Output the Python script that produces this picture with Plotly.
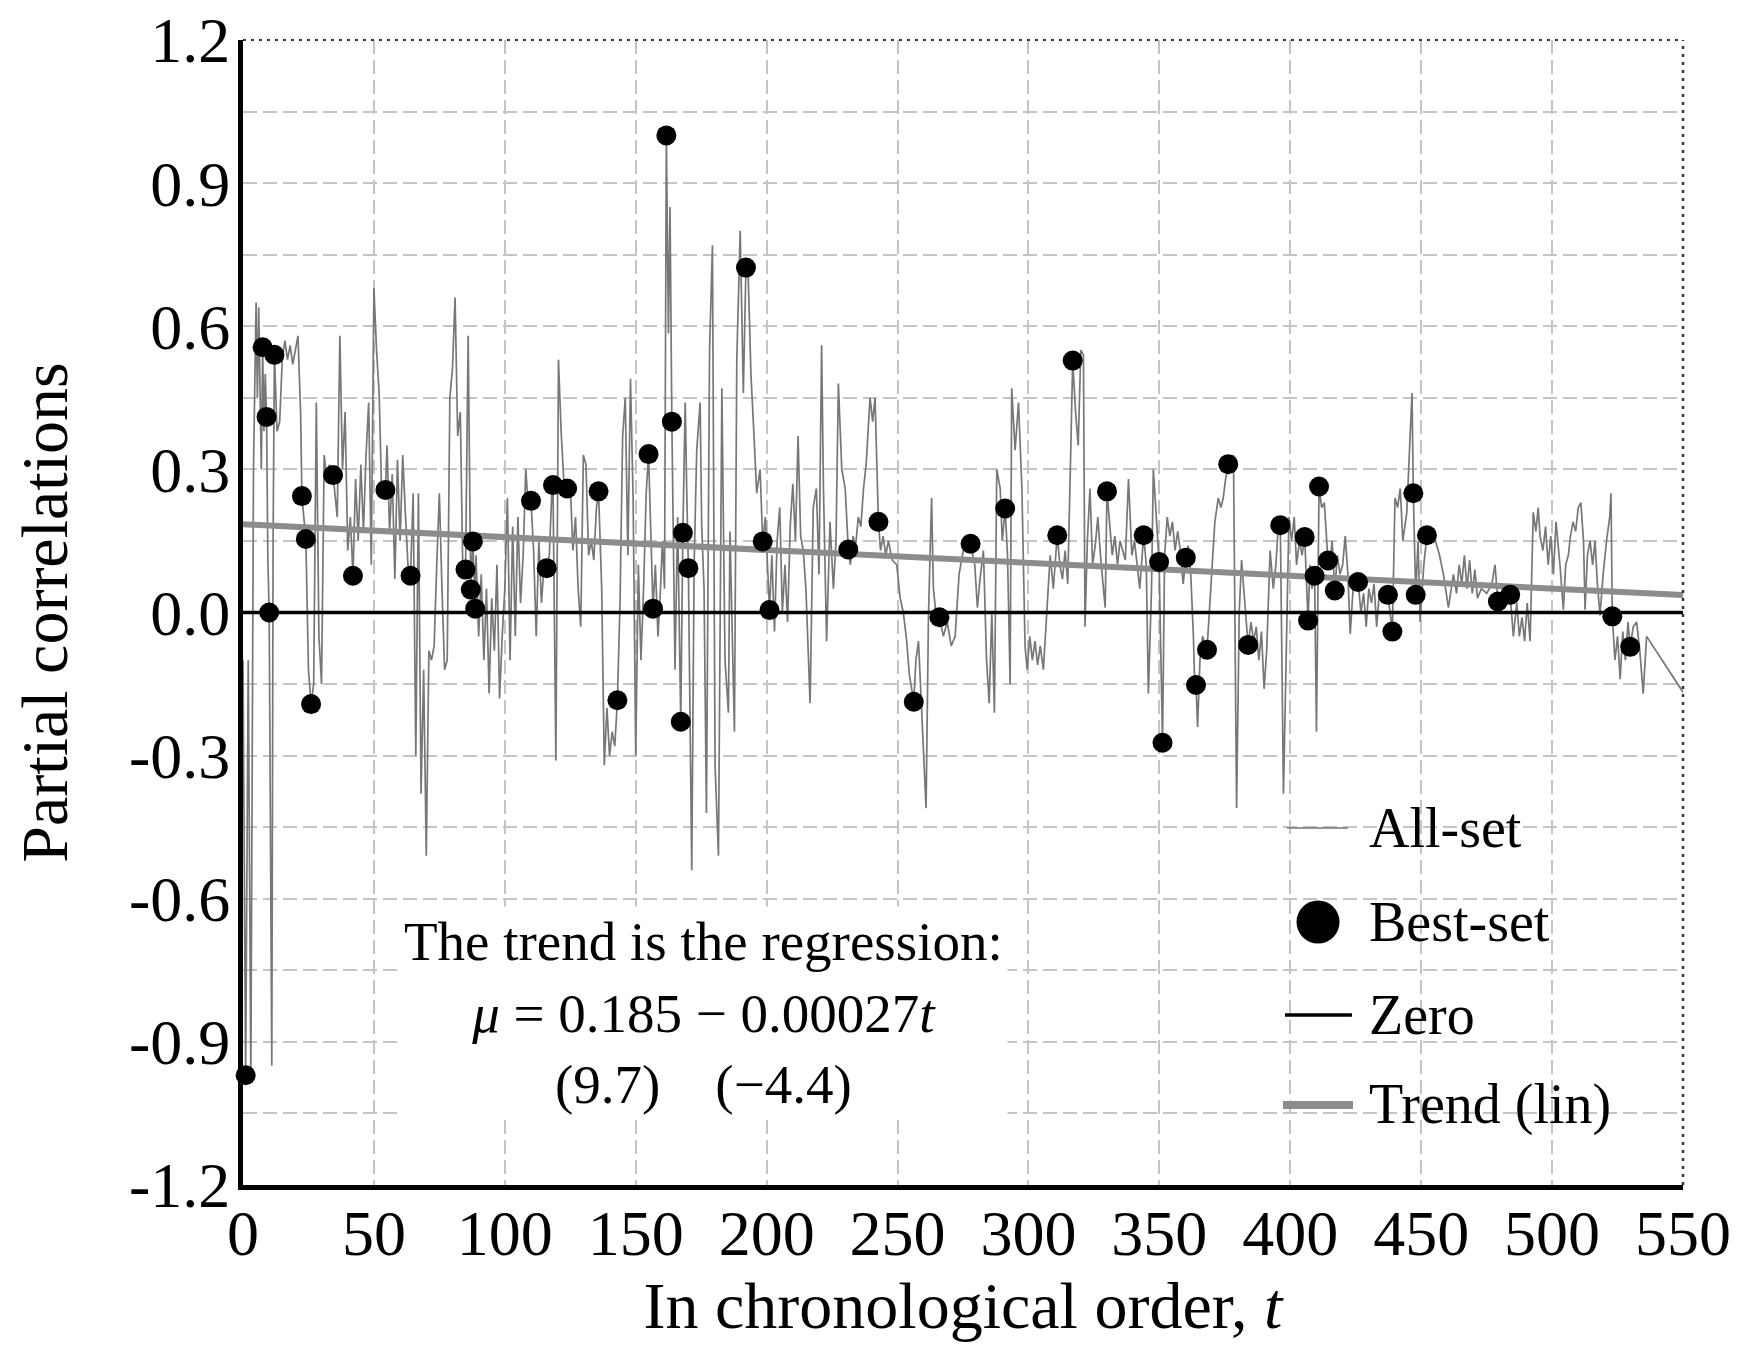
import plotly.graph_objects as go

# ---------------- data ----------------
ALL_T = [
    0, 1, 2, 2.5, 3, 4, 5, 5.5, 6, 7,
    7.5, 8, 8.5, 9, 9.5, 10, 10.5, 11, 11.5, 12,
    13, 14, 15, 16, 17, 18, 19, 20, 21, 22,
    22.5, 24, 24.5, 25, 26, 27, 28, 29, 30, 31,
    32, 33, 34, 34.4, 36, 37, 38, 39, 40, 41,
    42, 43, 44, 45, 46, 47, 48, 49, 50, 51,
    52, 53, 54.4, 55, 56, 57, 58, 59, 60, 61,
    62, 63, 64, 65, 66, 67, 68, 69,
    70, 71, 72, 73, 74, 75, 76, 77, 78, 79,
    80, 81, 82, 83, 84, 85, 86, 87, 87.8, 88.7,
    89, 90, 91, 92, 93, 94, 95, 96, 97, 98,
    99, 100, 101, 102, 103, 104, 105, 106, 107, 108,
    109, 110, 111, 112, 113, 114, 115, 116, 117, 118,
    118.4, 119.5, 120.5, 121.5, 122.5, 123.8, 125, 126, 127, 128,
    129, 130, 131, 132, 133, 134, 135, 135.8, 137, 138,
    139, 140, 141, 142, 143, 144, 145, 146, 147, 148,
    149,
    150, 151, 152, 153, 154, 154.9, 155.5, 156.6, 157.5, 158.5,
    159.3, 160.2, 161, 161.7, 162.5, 163.1, 163.8, 165, 166, 167.2,
    168, 168.9, 169.5, 170.1, 171.4, 172.3, 173.3, 174.6, 175.2, 176.1,
    177, 178.2, 179.3, 180.3, 181.6, 182.9, 184.1, 185.4, 186, 187.7,
    188.6, 189.9, 191.1, 192.1, 193, 194, 195, 196.2, 197.5, 198.5,
    199.5, 201.1, 202, 203, 204,
    205, 206, 207, 208, 209, 210, 211, 212, 213, 214,
    215, 216.6, 217.8, 219, 220, 221, 221.7, 222.9, 224.2, 225.5,
    226.5, 227.4, 228.7, 230, 231.2, 232, 233, 234, 235, 236,
    237, 238, 239.5, 240.5, 241.4, 242.7, 243.5, 244.5, 245.5, 246.5,
    248, 249.7, 251, 252.2, 253.5, 254.5, 256.2, 257, 258, 259,
    260, 260.9, 261.8, 263, 263.7, 265, 266, 267.5, 269, 270.5,
    272, 273.5, 275.1, 277.9,
    279.5, 280.5, 281.5, 282.8, 284, 285, 286, 287, 287.9, 289.2,
    290, 291.1, 292, 293, 293.6, 294.9, 296.2, 297.5, 298.7, 299.5,
    300.5, 301.5, 302.5, 303.5, 304.5, 305.7, 307, 308.3, 309.5, 311,
    312, 313, 314, 315, 316, 316.9, 318, 319, 320, 321,
    321.6, 322.5, 323.5, 324.5, 325.5, 326.5, 327.5, 328.5, 329.3, 330,
    331, 332, 333, 334, 335, 336, 337, 338.2, 339.5, 340.5,
    341.4, 342.5, 344, 345, 345.8,
    347, 347.7, 348.3, 349.9, 351.2, 352, 353, 354, 355, 356,
    357, 358, 359.1, 360.1, 361, 362, 363, 363.6, 364, 364.6,
    365.5, 366.5, 368.2, 369.5, 371.2, 372.5, 373.5, 374.4, 375.3, 376.3,
    377.3, 378.3, 379.5, 380.5, 381.4, 382.5, 383.9, 385, 386, 387,
    388, 389, 390, 391, 392.3, 393.5, 394.5, 395.4, 396.2, 397.4,
    398.5, 399.5, 400.5, 401.5, 402.4, 403.5, 404.5, 405.5, 406.8, 407.5,
    408.3, 409.3, 410, 411, 412, 413, 414.4, 415.2, 416, 417,
    418, 419, 420, 421, 422, 422.9, 424, 425.9, 427, 428,
    429, 430, 431, 432, 433, 434, 435, 436, 437.3, 439,
    440, 441, 442, 443, 444.5, 445.8, 446.5, 447, 447.9, 448.8,
    449.6, 451, 452.2, 453.5, 454.7, 456, 457, 458.5, 460.4, 461.5,
    462.3, 463.5, 464.5, 465.5, 466.5, 467.5, 468.5, 469.5, 470.5, 471.5,
    473, 475, 477, 478.2, 479.3,
    480.5, 482, 483.3, 484, 485.2, 486.5, 487.5, 488.5, 489.5, 490.5,
    491.6, 492.8, 493.8, 494.7, 495.4, 496.5, 497.5, 498.5, 499.5, 500.5,
    501.5, 503, 504.3, 505.2, 506.2, 507, 508, 509, 510, 511,
    512, 512.6, 513.5, 514.5, 515.5, 516.4, 517.3, 518.3, 519.5, 520.8,
    522, 522.5, 523, 524, 525, 526, 527, 528, 529, 529.8,
    531, 532.3, 533.5, 534.8, 536.1, 550,
]
ALL_V = [
    -0.10, -0.97, -0.10, -0.67, -0.98, 0.30, 0.65, 0.45, 0.64, 0.30,
    0.556, 0.38, 0.50, 0.41, 0.11, 0.0, -0.57, -0.95, 0.16, 0.54,
    0.38, 0.40, 0.53, 0.57, 0.53, 0.56, 0.52, 0.55, 0.58, 0.42,
    0.244, 0.154, -0.03, -0.12, -0.192, -0.15, 0.44, -0.05, -0.15, 0.33,
    0.28, 0.31, 0.29, 0.288, 0.20, 0.58, 0.30, 0.42, 0.13, 0.20,
    0.077, 0.28, 0.15, 0.31, 0.17, 0.33, 0.44, 0.10, 0.68, 0.55,
    0.46, 0.24, 0.257, 0.35, 0.17, 0.29, 0.07, 0.32, 0.15, 0.33,
    0.21, 0.10, 0.077, 0.25, -0.30, 0.25, -0.38, -0.12,
    -0.51, -0.08, -0.10, -0.07, 0.10, 0.25, 0.05, -0.12, -0.10, 0.45,
    0.51, 0.66, 0.37, 0.42, 0.07, 0.09, 0.58, 0.048, 0.149, 0.008,
    0.12, -0.05, 0.08, -0.10, 0.05, -0.17, 0.03, -0.08, 0.10, -0.18,
    -0.05, 0.05, 0.24, -0.10, 0.18, -0.05, 0.20, 0.02, 0.12, 0.30,
    0.22, 0.234, 0.13, -0.05, 0.15, 0.02, 0.10, 0.093, 0.12, 0.26,
    0.267, -0.31, 0.53, 0.38, 0.28, 0.26, 0.27, 0.13, 0.20, 0.05,
    -0.03, 0.33, 0.31, 0.12, 0.15, 0.11, 0.22, 0.254, 0.05, -0.32,
    -0.20, -0.30, -0.25, -0.28, -0.184, 0.02, 0.37, 0.45, 0.12, 0.49,
    0.24,
    -0.30, 0.10, -0.10, 0.05, 0.25, 0.332, 0.20, 0.008, 0.10, -0.05,
    0.03, 0.15, 0.05, 1.0, 0.585, 0.85, 0.40, -0.12, 0.20, -0.229,
    0.167, 0.44, 0.25, 0.093, -0.54, 0.10, 0.34, 0.44, 0.18, 0.05,
    -0.42, 0.55, 0.77, -0.32, -0.51, 0.47, -0.10, -0.21, 0.17, -0.25,
    0.53, 0.80, 0.46, 0.723, 0.70, 0.50, 0.39, 0.25, 0.30, 0.149,
    0.20, 0.005, 0.12, -0.04, 0.15,
    0.22, 0.0, 0.10, -0.02, 0.18, 0.27, 0.15, 0.37, 0.16, 0.13,
    0.05, -0.19, 0.22, 0.26, 0.08, 0.56, 0.26, -0.06, 0.19, 0.05,
    0.15, 0.48, 0.30, 0.26, 0.132, 0.10, 0.16, 0.14, 0.20, 0.18,
    0.26, 0.31, 0.45, 0.40, 0.45, 0.19, 0.13, 0.16, 0.12, 0.15,
    0.11, 0.10, 0.03, 0.0, -0.06, -0.13, -0.187, -0.10, -0.06, -0.18,
    -0.30, -0.41, -0.01, 0.24, 0.05, -0.02, -0.01, -0.05, -0.02, -0.07,
    -0.05, 0.08, 0.13, 0.144,
    0.10, 0.01, 0.07, 0.13, -0.10, -0.19, 0.0, -0.21, 0.30, 0.26,
    0.15, 0.218, 0.12, -0.15, 0.47, 0.34, 0.44, 0.26, -0.07, -0.12,
    -0.05, -0.10, -0.06, -0.11, -0.07, -0.12, 0.0, 0.12, 0.05, 0.162,
    0.10, 0.07, 0.13, 0.06, 0.30, 0.528, 0.42, 0.35, 0.55, 0.54,
    -0.03, 0.15, 0.26, 0.10, 0.14, 0.20, 0.12, 0.05, 0.01, 0.254,
    0.18, 0.12, 0.16, 0.10, 0.15, 0.13, 0.11, 0.28, 0.12, 0.15,
    0.11, 0.05, 0.162, 0.10, -0.17,
    0.05, 0.30, 0.25, 0.106, -0.273, 0.12, 0.20, 0.16, 0.19, 0.13,
    0.17, 0.13, 0.06, 0.115, 0.14, 0.08, -0.05, -0.17, -0.152, -0.24,
    -0.10, -0.05, -0.078, 0.05, 0.19, 0.24, 0.22, 0.24, 0.28, 0.311,
    0.30, 0.33, -0.41, 0.0, 0.11, 0.03, -0.068, -0.02, -0.06, -0.03,
    -0.10, -0.04, -0.16, -0.08, 0.13, 0.05, 0.10, 0.18, 0.183, -0.38,
    -0.10, 0.20, 0.15, 0.20, 0.10, 0.15, 0.12, 0.158, -0.017, 0.10,
    0.05, 0.077, -0.25, 0.264, 0.22, 0.23, 0.109, 0.107, 0.15, 0.046,
    0.12, 0.08, 0.10, 0.16, 0.08, -0.045, 0.05, 0.064, 0.0, 0.04,
    -0.03, 0.05, 0.02, 0.06, -0.03, 0.04, 0.02, 0.05, 0.037, -0.04,
    0.24, 0.22, 0.26, 0.15, 0.21, 0.38, 0.46, 0.25, 0.037, 0.15,
    -0.02, 0.10, 0.162, 0.15, 0.16, 0.14, 0.12, 0.08, 0.01, 0.05,
    0.08, 0.04, 0.10, 0.06, 0.12, 0.05, 0.11, 0.04, 0.09, 0.03,
    0.05, 0.04, 0.06, 0.10, 0.023,
    0.04, 0.03, 0.02, 0.037, -0.05, 0.02, -0.05, -0.01, -0.06, 0.02,
    -0.06, 0.21, 0.17, 0.22, 0.16, 0.13, 0.18, 0.10, 0.16, 0.08,
    0.19, 0.10, 0.006, 0.10, 0.12, 0.16, 0.19, 0.17, 0.22, 0.23,
    0.15, 0.006, 0.12, 0.15, 0.10, 0.15, 0.06, -0.006, 0.08, 0.15,
    0.20, 0.25, -0.008, -0.10, -0.05, -0.14, -0.04, -0.10, -0.02, -0.072,
    -0.03, -0.02, -0.08, -0.17, -0.05, -0.167,
]

BEST_T = [1, 7.5, 9, 10, 12, 22.5, 24, 26, 34.4, 42,
          54.4, 64, 85, 87, 87.8, 88.7, 110, 116, 118.4, 123.8,
          135.8, 143, 154.9, 156.6, 161.7, 163.8, 167.2, 168, 170.1, 192.1,
          198.5, 201.1, 231.2, 242.7, 256.2, 266, 277.9, 291.1, 311, 316.9,
          330, 344, 349.9, 351.2, 360.1, 364, 368.2, 376.3, 383.9, 396.2,
          405.5, 406.8, 409.3, 411, 414.4, 417, 425.9, 437.3, 439, 447,
          447.9, 452.2, 479.3, 484, 523, 529.8]
BEST_V = [-0.97, 0.556, 0.41, 0.0, 0.54, 0.244, 0.154, -0.192, 0.288, 0.077,
          0.257, 0.077, 0.09, 0.048, 0.149, 0.008, 0.234, 0.093, 0.267, 0.26,
          0.254, -0.184, 0.332, 0.008, 1.0, 0.40, -0.229, 0.167, 0.093, 0.723,
          0.149, 0.005, 0.132, 0.19, -0.187, -0.01, 0.144, 0.218, 0.162, 0.528,
          0.254, 0.162, 0.106, -0.273, 0.115, -0.152, -0.078, 0.311, -0.068, 0.183,
          0.158, -0.017, 0.077, 0.264, 0.109, 0.046, 0.064, 0.037, -0.04, 0.25,
          0.037, 0.162, 0.023, 0.037, -0.008, -0.072]

ZERO_T = [0, 550]
ZERO_V = [0.0, 0.0]
TREND_T = [0, 550]
TREND_V = [0.185, 0.0365]

X_TICKS = [0, 50, 100, 150, 200, 250, 300, 350, 400, 450, 500, 550]
Y_TICKS = [-1.2, -0.9, -0.6, -0.3, 0.0, 0.3, 0.6, 0.9, 1.2]
Y_TICK_LABELS = ["-1.2", "-0.9", "-0.6", "-0.3", "0.0", "0.3", "0.6", "0.9", "1.2"]
LEGEND_LABELS = ["All-set", "Best-set", "Zero", "Trend (lin)"]

FONT = "Liberation Serif, Times New Roman, serif"
GRID = "#c4c4c4"
GREY_LINE = "#777777"
TREND_COLOR = "#8c8c8c"

fig = go.Figure()
fig.add_trace(go.Scatter(x=ALL_T, y=ALL_V, mode="lines", name=LEGEND_LABELS[0],
                         line=dict(color=GREY_LINE, width=1.7), showlegend=False))
fig.add_trace(go.Scatter(x=ZERO_T, y=ZERO_V, mode="lines", name=LEGEND_LABELS[2],
                         line=dict(color="black", width=3.5), showlegend=False))
fig.add_trace(go.Scatter(x=TREND_T, y=TREND_V, mode="lines", name=LEGEND_LABELS[3],
                         line=dict(color=TREND_COLOR, width=6), showlegend=False))
fig.add_trace(go.Scatter(x=BEST_T, y=BEST_V, mode="markers", name=LEGEND_LABELS[1],
                         marker=dict(color="black", size=20, line=dict(width=0)),
                         showlegend=False, cliponaxis=False))

fig.update_layout(
    width=1741, height=1363,
    margin=dict(l=235, r=66, t=32, b=186),
    paper_bgcolor="white", plot_bgcolor="white",
    font=dict(family=FONT, color="black"),
    xaxis=dict(
        range=[0, 550], tickvals=X_TICKS, ticktext=[str(v) for v in X_TICKS],
        showgrid=True, gridcolor=GRID, gridwidth=1.5, griddash="14px,6px",
        showline=True, linecolor="black", linewidth=5, zeroline=False,
        ticks="", ticklabelstandoff=-12, automargin=False, ticklabeloverflow="allow",
        tickfont=dict(family=FONT, size=64, color="black"),
        title=dict(text="In chronological order, <i>t</i>",
                   font=dict(family=FONT, size=66, color="black"), standoff=0),
    ),
    yaxis=dict(
        range=[-1.2, 1.2], tickvals=Y_TICKS, ticktext=Y_TICK_LABELS,
        showgrid=True, gridcolor=GRID, gridwidth=1.5, griddash="14px,6px",
        minor=dict(tick0=-1.2, dtick=0.15, showgrid=True, gridcolor=GRID,
                   gridwidth=1.5, griddash="14px,6px"),
        showline=True, linecolor="black", linewidth=5, zeroline=False,
        ticks="", ticklabelstandoff=-5, automargin=False, ticklabeloverflow="allow",
        tickfont=dict(family=FONT, size=64, color="black"),
        title=dict(text="Partial correlations",
                   font=dict(family=FONT, size=66, color="black"), standoff=52),
    ),
)

# dotted top / right frame
fig.add_shape(type="line", xref="paper", yref="paper", x0=0, x1=1, y0=1, y1=1,
              line=dict(color="#333333", width=2, dash="3px,5px"))
fig.add_shape(type="line", xref="paper", yref="paper", x0=1, x1=1, y0=0, y1=1,
              line=dict(color="#333333", width=2.5, dash="3px,5px"))

# regression annotation
fig.add_annotation(
    x=175.7, y=-0.84, xref="x", yref="y", xanchor="center", yanchor="middle",
    text="The trend is the regression:<br><i>\u03bc</i> = 0.185 \u2212 0.00027<i>t</i><br>"
         "(9.7)\u00a0\u00a0\u00a0\u00a0(\u22124.4)",
    showarrow=False, align="center", bgcolor="white", borderpad=4,
    font=dict(family=FONT, size=55, color="black"),
)

# manual legend (large glyphs as in the reference)
LEG_TEXT_X = 0.7805
LEG_ROWS_Y = [0.3118, 0.2297, 0.1485, 0.0699]
fig.add_shape(type="line", xref="paper", yref="paper", x0=0.725, x1=0.7674,
              y0=LEG_ROWS_Y[0], y1=LEG_ROWS_Y[0], line=dict(color=GREY_LINE, width=1.7))
fig.add_shape(type="circle", xref="paper", yref="paper", x0=0.7316, x1=0.7615,
              y0=LEG_ROWS_Y[1] - 0.0188, y1=LEG_ROWS_Y[1] + 0.0188,
              fillcolor="black", line=dict(color="black", width=0))
fig.add_shape(type="line", xref="paper", yref="paper", x0=0.7236, x1=0.7701,
              y0=LEG_ROWS_Y[2], y1=LEG_ROWS_Y[2], line=dict(color="black", width=3.5))
fig.add_shape(type="line", xref="paper", yref="paper", x0=0.7222, x1=0.7708,
              y0=LEG_ROWS_Y[3], y1=LEG_ROWS_Y[3], line=dict(color=TREND_COLOR, width=8))
for lab, yy in zip(LEGEND_LABELS, LEG_ROWS_Y):
    fig.add_annotation(x=LEG_TEXT_X, y=yy, xref="paper", yref="paper",
                       xanchor="left", yanchor="middle", text=lab, showarrow=False,
                       font=dict(family=FONT, size=56, color="black"))

fig.write_html("out.html")
